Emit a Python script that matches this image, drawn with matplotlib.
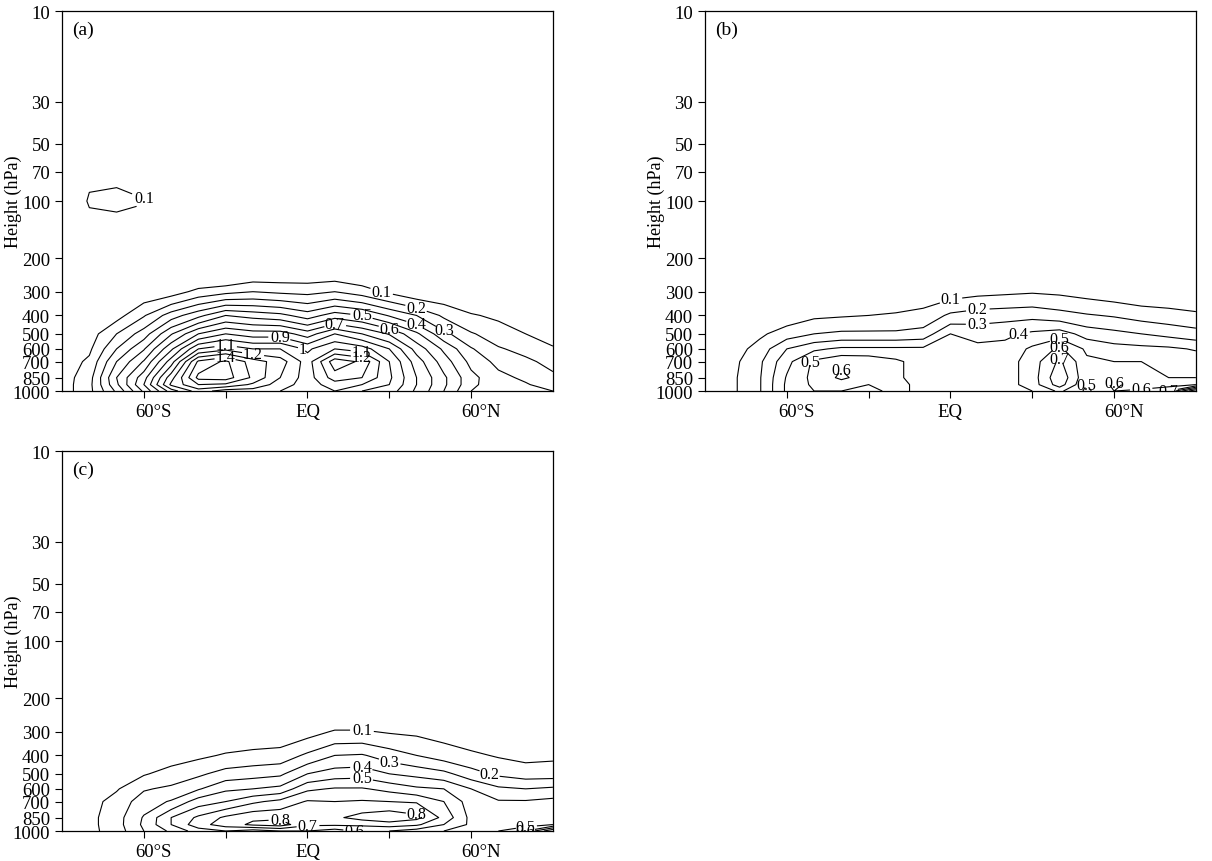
import numpy as np
import matplotlib
matplotlib.use("Agg")
import matplotlib.pyplot as plt
from matplotlib.ticker import NullLocator
from matplotlib.transforms import ScaledTranslation

# grid: latitude (deg, S negative) x pressure (hPa)
lats = [-90, -80, -70, -60, -50, -40, -30, -20, -10, 0, 10, 20, 30, 40, 50, 60, 70, 80, 90]
plevs = [1000, 925, 850, 700, 600, 500, 400, 300, 250, 200, 150, 100, 70, 50, 30, 10]

zero_row = [0.0] * 19

# panel (a), one row per pressure level
field_a = [
    [0.05, 0.17, 0.42, 0.72, 1.05, 1.25, 1.15, 1.15, 1.10, 1.00, 1.10, 1.00, 0.95, 0.78, 0.60, 0.40, 0.30, 0.33, 0.30],
    [0.05, 0.17, 0.48, 0.80, 1.22, 1.40, 1.38, 1.28, 1.15, 1.05, 1.15, 1.10, 1.00, 0.80, 0.62, 0.43, 0.32, 0.31, 0.25],
    [0.05, 0.16, 0.50, 0.76, 1.16, 1.53, 1.55, 1.38, 1.20, 1.05, 1.25, 1.20, 1.02, 0.80, 0.62, 0.43, 0.33, 0.28, 0.22],
    [0.04, 0.12, 0.40, 0.61, 0.95, 1.42, 1.52, 1.35, 1.25, 1.05, 1.36, 1.28, 1.00, 0.75, 0.55, 0.37, 0.27, 0.22, 0.17],
    [0.03, 0.08, 0.30, 0.49, 0.78, 1.10, 1.17, 1.10, 1.10, 0.98, 1.10, 1.05, 0.90, 0.66, 0.48, 0.31, 0.21, 0.17, 0.11],
    [0.02, 0.05, 0.20, 0.35, 0.59, 0.80, 0.90, 0.85, 0.85, 0.75, 0.90, 0.80, 0.69, 0.52, 0.33, 0.21, 0.15, 0.10, 0.06],
    [0.01, 0.02, 0.06, 0.19, 0.35, 0.47, 0.60, 0.56, 0.53, 0.45, 0.55, 0.50, 0.39, 0.30, 0.18, 0.11, 0.08, 0.05, 0.02],
    [0.00, 0.01, 0.02, 0.03, 0.05, 0.13, 0.17, 0.20, 0.18, 0.17, 0.20, 0.15, 0.08, 0.02, 0.02, 0.00, 0.01, 0.01, 0.00],
    [0.00, 0.00, 0.00, 0.00, 0.01, 0.00, 0.00, 0.05, 0.05, 0.05, 0.06, 0.03, 0.01, 0.00, 0.00, 0.00, 0.00, 0.00, 0.00],
    zero_row,
    [0.00, 0.05, 0.05, 0.04, 0.01, 0.00, 0.00, 0.00, 0.00, 0.00, 0.00, 0.00, 0.00, 0.00, 0.00, 0.00, 0.00, 0.00, 0.00],
    [0.00, 0.11, 0.12, 0.105, 0.03, 0.00, 0.00, 0.00, 0.00, 0.00, 0.00, 0.00, 0.00, 0.00, 0.00, 0.00, 0.00, 0.00, 0.00],
    [0.00, 0.08, 0.08, 0.06, 0.01, 0.00, 0.00, 0.00, 0.00, 0.00, 0.00, 0.00, 0.00, 0.00, 0.00, 0.00, 0.00, 0.00, 0.00],
    [0.00, 0.02, 0.02, 0.01, 0.00, 0.00, 0.00, 0.00, 0.00, 0.00, 0.00, 0.00, 0.00, 0.00, 0.00, 0.00, 0.00, 0.00, 0.00],
    zero_row,
    zero_row,
]

# panel (b)
field_b = [
    [0.03, 0.08, 0.19, 0.42, 0.50, 0.50, 0.45, 0.55, 0.45, 0.42, 0.48, 0.45, 0.50, 0.62, 0.48, 0.60, 0.62, 0.70, 1.10],
    [0.03, 0.08, 0.19, 0.42, 0.52, 0.55, 0.50, 0.55, 0.45, 0.45, 0.50, 0.45, 0.55, 0.75, 0.50, 0.62, 0.55, 0.55, 0.60],
    [0.03, 0.08, 0.19, 0.41, 0.53, 0.62, 0.55, 0.52, 0.45, 0.45, 0.45, 0.45, 0.55, 0.78, 0.52, 0.55, 0.52, 0.50, 0.50],
    [0.03, 0.07, 0.18, 0.37, 0.52, 0.58, 0.57, 0.52, 0.45, 0.45, 0.44, 0.45, 0.55, 0.72, 0.52, 0.50, 0.50, 0.48, 0.46],
    [0.02, 0.05, 0.14, 0.30, 0.38, 0.42, 0.42, 0.42, 0.42, 0.43, 0.43, 0.43, 0.52, 0.62, 0.48, 0.44, 0.43, 0.42, 0.39],
    [0.01, 0.03, 0.08, 0.15, 0.20, 0.22, 0.22, 0.22, 0.24, 0.40, 0.36, 0.38, 0.42, 0.45, 0.36, 0.33, 0.30, 0.27, 0.24],
    [0.00, 0.01, 0.03, 0.04, 0.08, 0.09, 0.10, 0.11, 0.13, 0.22, 0.25, 0.26, 0.27, 0.24, 0.21, 0.19, 0.16, 0.14, 0.12],
    [0.00, 0.00, 0.00, 0.00, 0.01, 0.02, 0.02, 0.03, 0.04, 0.05, 0.07, 0.08, 0.09, 0.08, 0.06, 0.04, 0.02, 0.02, 0.01],
    [0.00, 0.00, 0.00, 0.00, 0.00, 0.00, 0.00, 0.00, 0.00, 0.01, 0.01, 0.01, 0.01, 0.00, 0.00, 0.00, 0.00, 0.00, 0.00],
    zero_row, zero_row, zero_row, zero_row, zero_row, zero_row, zero_row,
]

# panel (c)
field_c = [
    [0.02, 0.07, 0.15, 0.30, 0.42, 0.55, 0.60, 0.55, 0.60, 0.60, 0.55, 0.62, 0.60, 0.55, 0.50, 0.45, 0.50, 0.60, 0.90],
    [0.02, 0.07, 0.16, 0.32, 0.50, 0.66, 0.75, 0.82, 0.85, 0.72, 0.72, 0.72, 0.75, 0.72, 0.60, 0.48, 0.45, 0.45, 0.50],
    [0.02, 0.07, 0.16, 0.31, 0.50, 0.62, 0.72, 0.78, 0.78, 0.72, 0.78, 0.84, 0.88, 0.83, 0.67, 0.47, 0.43, 0.42, 0.45],
    [0.02, 0.06, 0.14, 0.25, 0.31, 0.45, 0.50, 0.58, 0.63, 0.71, 0.70, 0.71, 0.70, 0.69, 0.60, 0.45, 0.41, 0.41, 0.43],
    [0.01, 0.04, 0.09, 0.19, 0.22, 0.29, 0.38, 0.40, 0.43, 0.58, 0.61, 0.61, 0.57, 0.52, 0.50, 0.40, 0.32, 0.30, 0.32],
    [0.00, 0.02, 0.04, 0.09, 0.14, 0.18, 0.24, 0.26, 0.28, 0.40, 0.45, 0.46, 0.40, 0.37, 0.33, 0.24, 0.18, 0.15, 0.15],
    [0.00, 0.00, 0.01, 0.03, 0.05, 0.08, 0.11, 0.13, 0.14, 0.22, 0.30, 0.31, 0.25, 0.20, 0.15, 0.12, 0.09, 0.07, 0.08],
    [0.00, 0.00, 0.00, 0.00, 0.01, 0.02, 0.02, 0.02, 0.03, 0.06, 0.11, 0.11, 0.09, 0.08, 0.06, 0.03, 0.01, 0.01, 0.01],
    [0.00, 0.00, 0.00, 0.00, 0.00, 0.00, 0.00, 0.00, 0.00, 0.01, 0.02, 0.02, 0.01, 0.00, 0.00, 0.00, 0.00, 0.00, 0.00],
    zero_row, zero_row, zero_row, zero_row, zero_row, zero_row, zero_row,
]

contour_levels = [0.1, 0.2, 0.3, 0.4, 0.5, 0.6, 0.7, 0.8, 0.9, 1.0, 1.1, 1.2, 1.3, 1.4, 1.5, 1.6]
label_levels_a = [0.1, 0.2, 0.3, 0.4, 0.5, 0.6, 0.7, 0.9, 1.0, 1.1, 1.2, 1.4]
label_levels_b = [0.1, 0.2, 0.3, 0.4, 0.5, 0.6, 0.7]
label_levels_c = [0.1, 0.2, 0.3, 0.4, 0.5, 0.6, 0.7, 0.8]
yticks = [1000, 850, 700, 600, 500, 400, 300, 200, 100, 70, 50, 30, 10]
xticks = [-60, -30, 0, 30, 60]
xticklabels = ["60°S", "", "EQ", "", "60°N"]

plt.rcParams["font.family"] = ["Liberation Serif", "DejaVu Serif"]

fig = plt.figure(figsize=(12.12, 8.62), dpi=100)


def draw_panel(rect, field, label_levels, tag):
    ax = fig.add_axes(rect)
    cs = ax.contour(lats, plevs, np.array(field), levels=contour_levels,
                    colors="k", linewidths=0.8)
    used = [lv for lv in label_levels if lv in list(cs.levels)]
    labels = ax.clabel(cs, levels=used, fmt="%g", fontsize=11.5, inline_spacing=2)
    for t in labels:
        t.set_rotation(0)
    ax.set_yscale("log")
    ax.set_ylim(1000, 10)
    ax.set_xlim(-90, 90)
    ax.yaxis.set_minor_locator(NullLocator())
    ax.set_yticks(yticks)
    ax.set_yticklabels([str(t) for t in yticks])
    ax.set_xticks(xticks)
    ax.set_xticklabels(xticklabels)
    ax.tick_params(labelsize=13.5, length=5, width=0.8, direction="out")
    # reference labels sit a little right of their ticks
    shift = ScaledTranslation(7 / 72, 0, fig.dpi_scale_trans)
    for lbl in ax.get_xticklabels():
        if "60" in lbl.get_text():
            lbl.set_transform(lbl.get_transform() + shift)
    ax.set_ylabel("Height (hPa)", fontsize=13)
    ax.yaxis.set_label_coords(-0.081, 0.5)
    ax.text(0.02, 0.975, f"({tag})", transform=ax.transAxes, va="top", ha="left", fontsize=14)
    for s in ax.spines.values():
        s.set_linewidth(0.9)
    return ax


draw_panel([0.0512, 0.5452, 0.405, 0.4408], field_a, label_levels_a, "a")
draw_panel([0.5817, 0.5452, 0.405, 0.4408], field_b, label_levels_b, "b")
draw_panel([0.0512, 0.0348, 0.405, 0.4408], field_c, label_levels_c, "c")

fig.savefig("out.png", dpi=100)
